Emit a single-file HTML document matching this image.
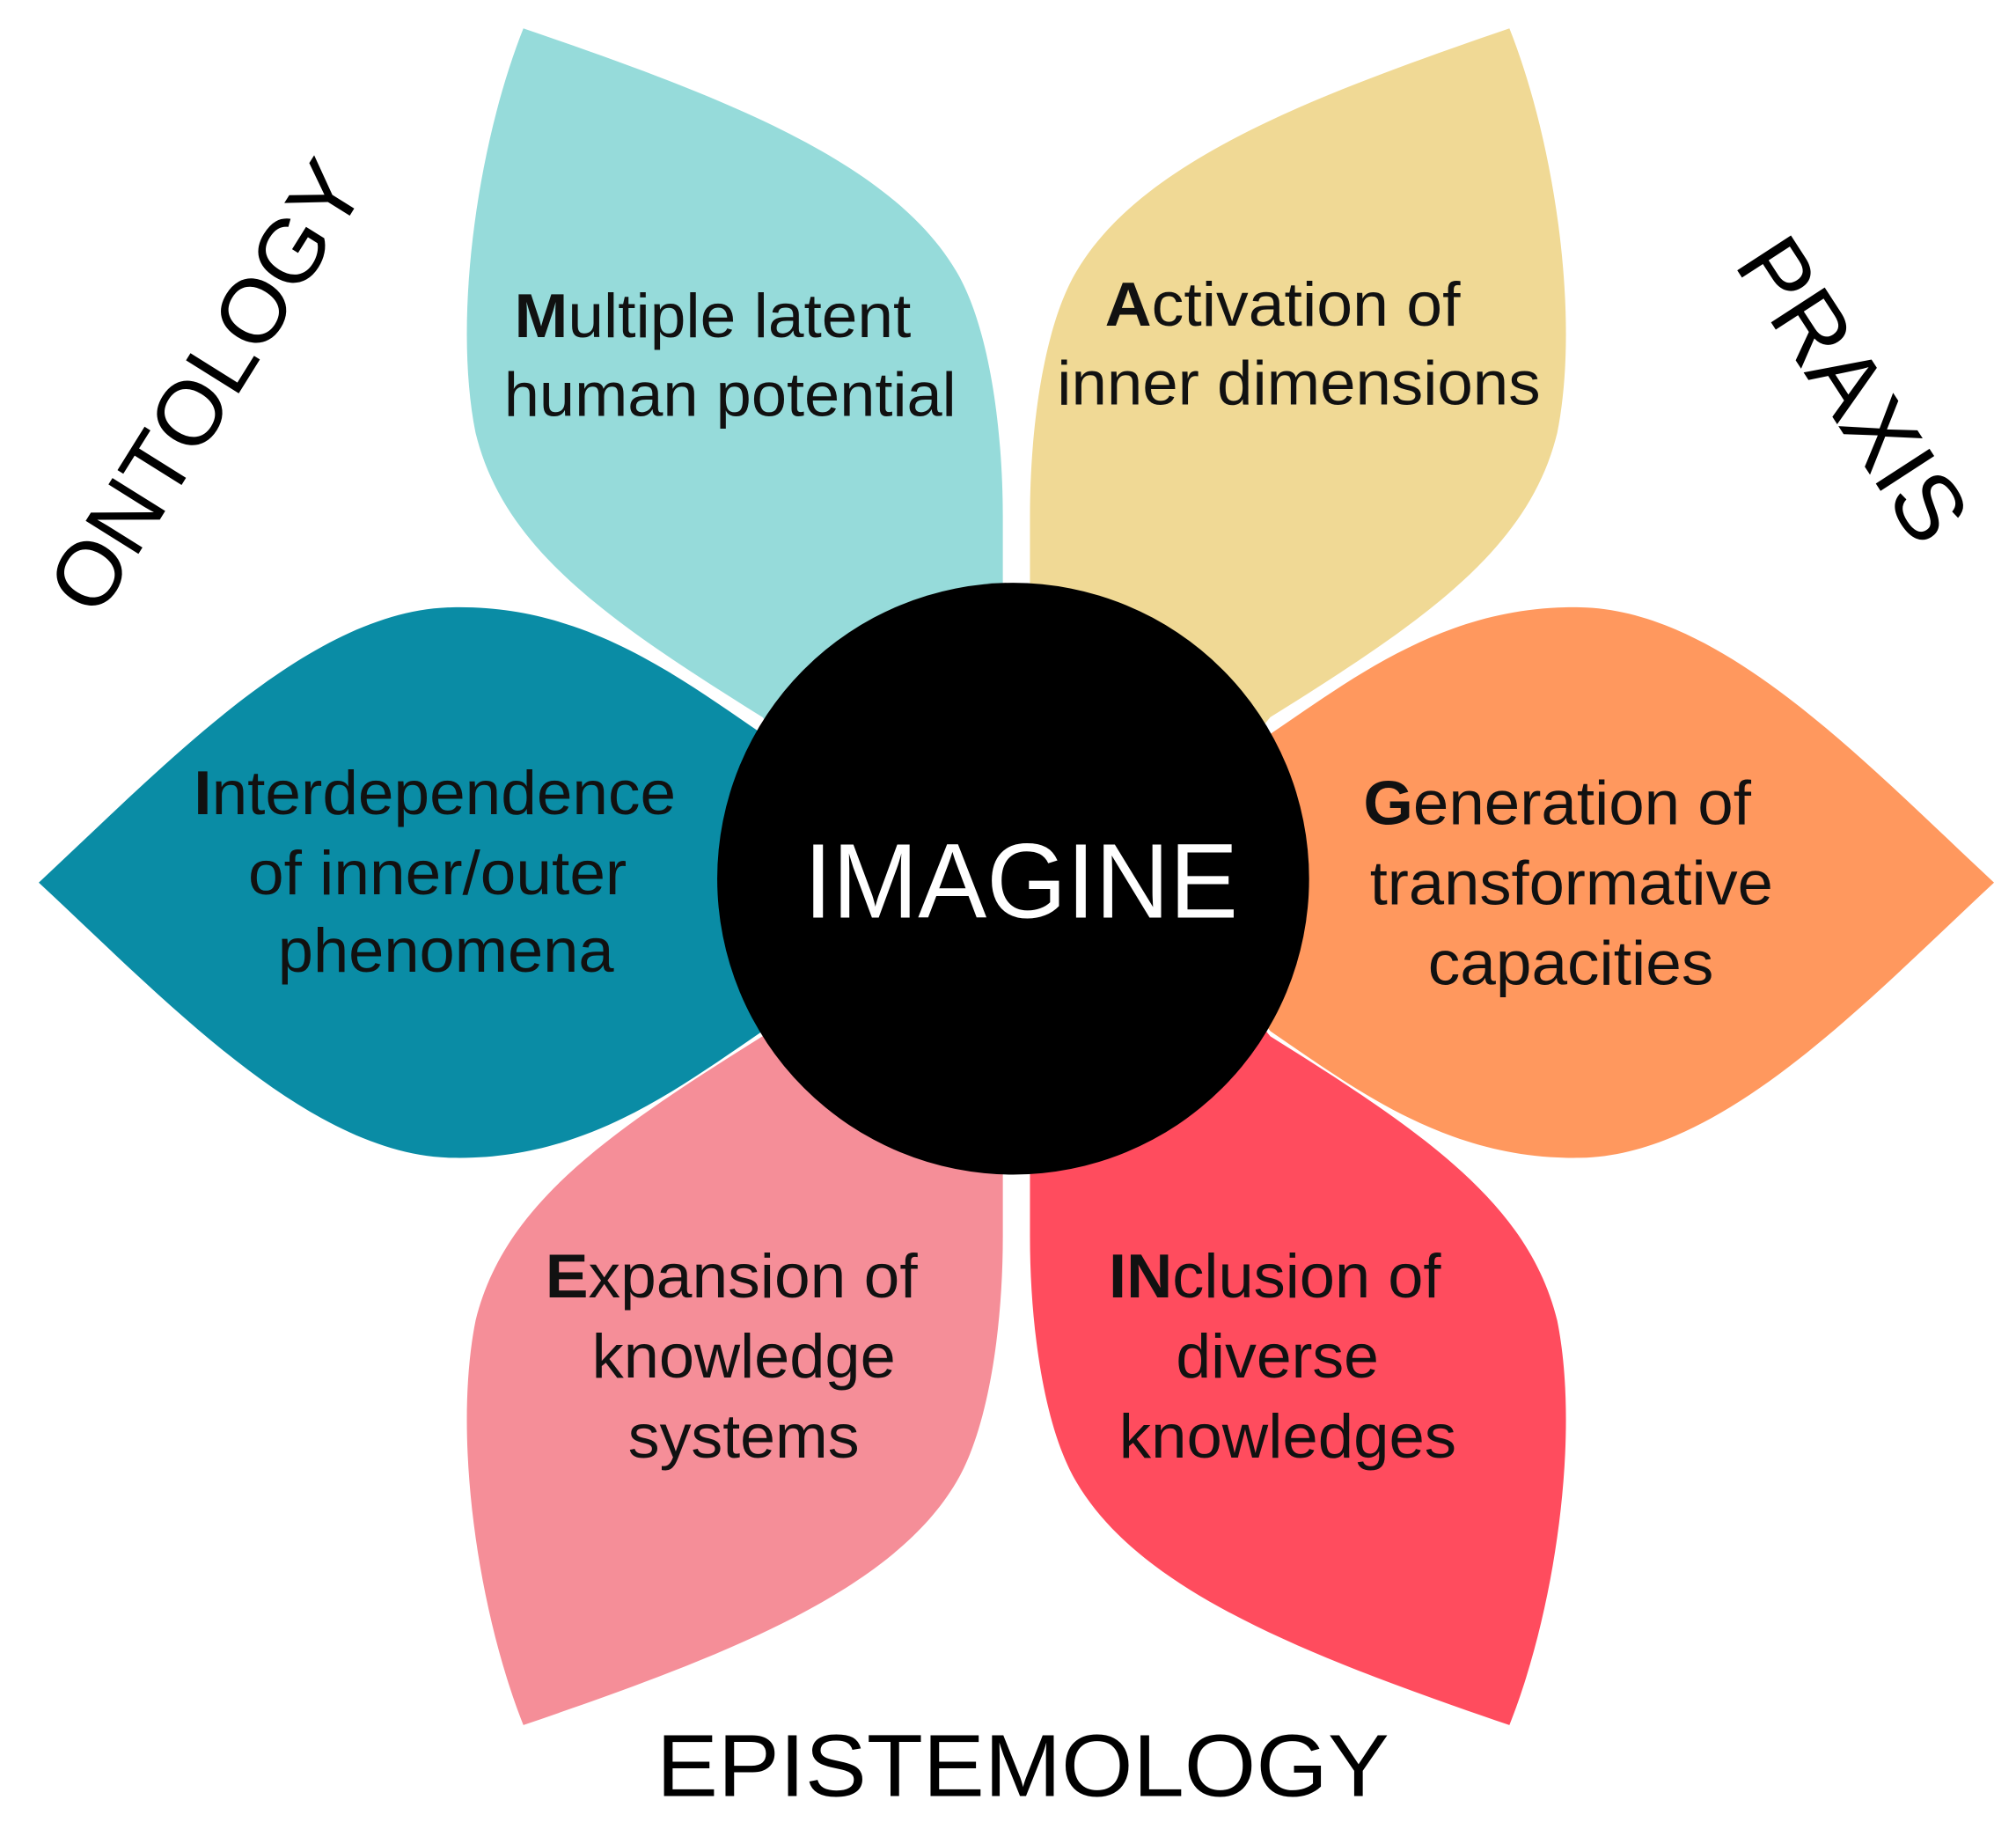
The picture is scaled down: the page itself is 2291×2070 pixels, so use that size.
<!DOCTYPE html>
<html><head><meta charset="utf-8"><style>
html,body{margin:0;padding:0;background:#fff;}
svg{display:block;}
text{font-family:"Liberation Sans",Arial,sans-serif;}
</style></head><body>
<svg width="2291" height="2070" viewBox="0 0 1560 1410" preserveAspectRatio="none" xmlns="http://www.w3.org/2000/svg">
<defs>
<path id="tp" d="M405,22 C560,75 690,125 740,210 C765,252 776,330 776,400 L776,640 L660,640 L590,555 C470,480 390,425 368,335 C350,245 370,110 405,22 Z"/>
<path id="lp" d="M30,683 C130,590 240,472 350,470 C450,468 520,520 590,568 L680,683 L590,798 C520,846 450,898 350,896 C240,894 130,776 30,683 Z"/>
</defs>
<use href="#tp" fill="#96DBDA"/>
<use href="#tp" fill="#F0D995" transform="translate(1573,0) scale(-1,1)"/>
<use href="#tp" fill="#F58E98" transform="translate(0,1357) scale(1,-1)"/>
<use href="#tp" fill="#FF4C5E" transform="translate(1573,1357) scale(-1,-1)"/>
<use href="#lp" fill="#0A8CA5"/>
<use href="#lp" fill="#FF985E" transform="translate(1573,0) scale(-1,1)"/>
<circle cx="784" cy="680" r="229" fill="#000"/>
<text x="622" y="710" font-size="82" fill="#fff" textLength="336" lengthAdjust="spacingAndGlyphs">IMAGINE</text>
<g font-size="48" fill="#111">
<text x="398" y="261" textLength="307" lengthAdjust="spacingAndGlyphs"><tspan font-weight="bold">M</tspan>ultiple latent</text>
<text x="390" y="322" textLength="350" lengthAdjust="spacingAndGlyphs">human potential</text>
<text x="855" y="252" textLength="275" lengthAdjust="spacingAndGlyphs"><tspan font-weight="bold">A</tspan>ctivation of</text>
<text x="818" y="313" textLength="374" lengthAdjust="spacingAndGlyphs">inner dimensions</text>
<text x="150" y="630" textLength="373" lengthAdjust="spacingAndGlyphs"><tspan font-weight="bold">I</tspan>nterdependence</text>
<text x="192" y="692" textLength="293" lengthAdjust="spacingAndGlyphs">of inner/outer</text>
<text x="215" y="752" textLength="260" lengthAdjust="spacingAndGlyphs">phenomena</text>
<text x="1055" y="638" textLength="300" lengthAdjust="spacingAndGlyphs"><tspan font-weight="bold">G</tspan>eneration of</text>
<text x="1060" y="700" textLength="312" lengthAdjust="spacingAndGlyphs">transformative</text>
<text x="1105" y="762" textLength="221" lengthAdjust="spacingAndGlyphs">capacities</text>
<text x="422" y="1004" textLength="288" lengthAdjust="spacingAndGlyphs"><tspan font-weight="bold">E</tspan>xpansion of</text>
<text x="458" y="1066" textLength="235" lengthAdjust="spacingAndGlyphs">knowledge</text>
<text x="486" y="1128" textLength="179" lengthAdjust="spacingAndGlyphs">systems</text>
<text x="858" y="1004" textLength="257" lengthAdjust="spacingAndGlyphs"><tspan font-weight="bold">IN</tspan>clusion of</text>
<text x="910" y="1066" textLength="157" lengthAdjust="spacingAndGlyphs">diverse</text>
<text x="866" y="1128" textLength="261" lengthAdjust="spacingAndGlyphs">knowledges</text>
</g>
<g font-size="70" fill="#000" text-anchor="middle">
<text transform="translate(180,312) rotate(-58)">ONTOLOGY</text>
<text transform="translate(1413,315) rotate(57)" font-size="72">PRAXIS</text>
</g>
<text x="508" y="1390" font-size="68" fill="#000" textLength="567" lengthAdjust="spacingAndGlyphs">EPISTEMOLOGY</text>
</svg>
</body></html>
